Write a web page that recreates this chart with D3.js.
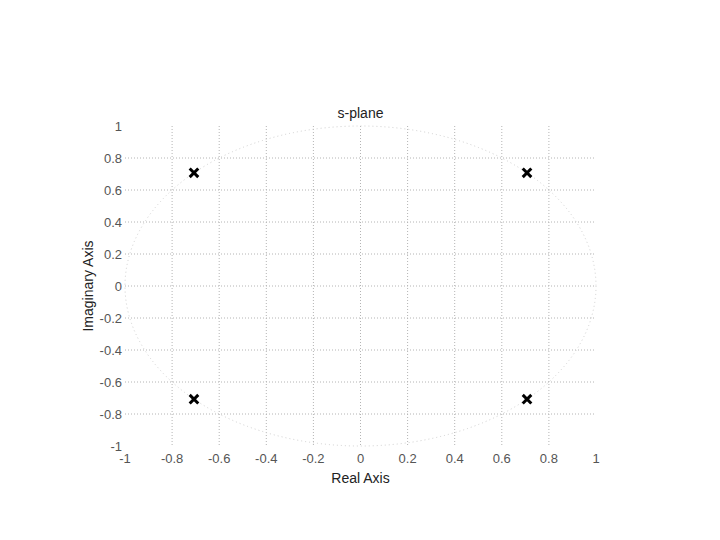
<!DOCTYPE html>
<html>
<head>
<meta charset="utf-8">
<script src="https://cdn.jsdelivr.net/npm/d3@7"></script>
<style>
  body { margin: 0; background: #fff; }
  text { font-family: "Liberation Sans", Arial, sans-serif; }
</style>
</head>
<body>
<div id="chart"></div>
<script>
// Pole locations (real, imaginary)
let poleRe = [-0.7071, -0.7071, 0.7071, 0.7071];
let poleIm = [0.7071, -0.7071, 0.7071, -0.7071];

// Tick values
let xTicks = [-1, -0.8, -0.6, -0.4, -0.2, 0, 0.2, 0.4, 0.6, 0.8, 1];
let yTicks = [-1, -0.8, -0.6, -0.4, -0.2, 0, 0.2, 0.4, 0.6, 0.8, 1];

let width = 720,
    height = 540,
    margin = { top: 126, right: 124, bottom: 94, left: 125 },
    plotWidth = width - margin.left - margin.right,
    plotHeight = height - margin.top - margin.bottom;

let svg = d3.select("#chart").append("svg")
    .attr("width", width)
    .attr("height", height);

let g = svg.append("g")
    .attr("transform", "translate(" + margin.left + "," + margin.top + ")");

let x = d3.scaleLinear().domain([-1, 1]).range([0, plotWidth]);
let y = d3.scaleLinear().domain([-1, 1]).range([plotHeight, 0]);

// Grid lines (inner ticks only)
g.selectAll(".vgrid")
    .data(xTicks.slice(1, -1))
    .enter().append("line")
    .attr("x1", d => x(d)).attr("x2", d => x(d))
    .attr("y1", 0).attr("y2", plotHeight)
    .attr("stroke", "#b4b4b4")
    .attr("stroke-width", 1)
    .attr("stroke-dasharray", "1,2");

g.selectAll(".hgrid")
    .data(yTicks.slice(1, -1))
    .enter().append("line")
    .attr("y1", d => y(d)).attr("y2", d => y(d))
    .attr("x1", 0).attr("x2", plotWidth)
    .attr("stroke", "#b4b4b4")
    .attr("stroke-width", 1)
    .attr("stroke-dasharray", "1,2");

// Unit circle
g.append("ellipse")
    .attr("cx", x(0))
    .attr("cy", y(0))
    .attr("rx", x(1) - x(0))
    .attr("ry", y(0) - y(1))
    .attr("fill", "none")
    .attr("stroke", "#d0d0d0")
    .attr("stroke-width", 1)
    .attr("stroke-dasharray", "1,3");

// Tick labels (plain hyphen for negatives, as in the original)
g.selectAll(".xlabel")
    .data(xTicks)
    .enter().append("text")
    .attr("x", d => x(d))
    .attr("y", plotHeight + 17)
    .attr("text-anchor", "middle")
    .attr("font-size", 13)
    .attr("fill", "#555")
    .text(d => String(d));

g.selectAll(".ylabel")
    .data(yTicks)
    .enter().append("text")
    .attr("x", -3)
    .attr("y", d => y(d) + 5)
    .attr("text-anchor", "end")
    .attr("font-size", 13)
    .attr("fill", "#555")
    .text(d => String(d));

// Poles
let pole = d3.symbol().type(d3.symbolX).size(50);
g.selectAll(".pole")
    .data(poleRe)
    .enter().append("path")
    .attr("d", pole)
    .attr("transform", (d, i) => "translate(" + x(d) + "," + y(poleIm[i]) + ")")
    .attr("fill", "none")
    .attr("stroke", "#000")
    .attr("stroke-width", 3);

// Titles
g.append("text")
    .attr("x", x(0))
    .attr("y", -8)
    .attr("text-anchor", "middle")
    .attr("font-size", 14)
    .attr("fill", "#222")
    .text("s-plane");

g.append("text")
    .attr("x", x(0))
    .attr("y", plotHeight + 37)
    .attr("text-anchor", "middle")
    .attr("font-size", 14)
    .attr("fill", "#222")
    .text("Real Axis");

g.append("text")
    .attr("transform", "translate(-32," + y(0) + ") rotate(-90)")
    .attr("text-anchor", "middle")
    .attr("font-size", 14)
    .attr("fill", "#222")
    .text("Imaginary Axis");
</script>
</body>
</html>
